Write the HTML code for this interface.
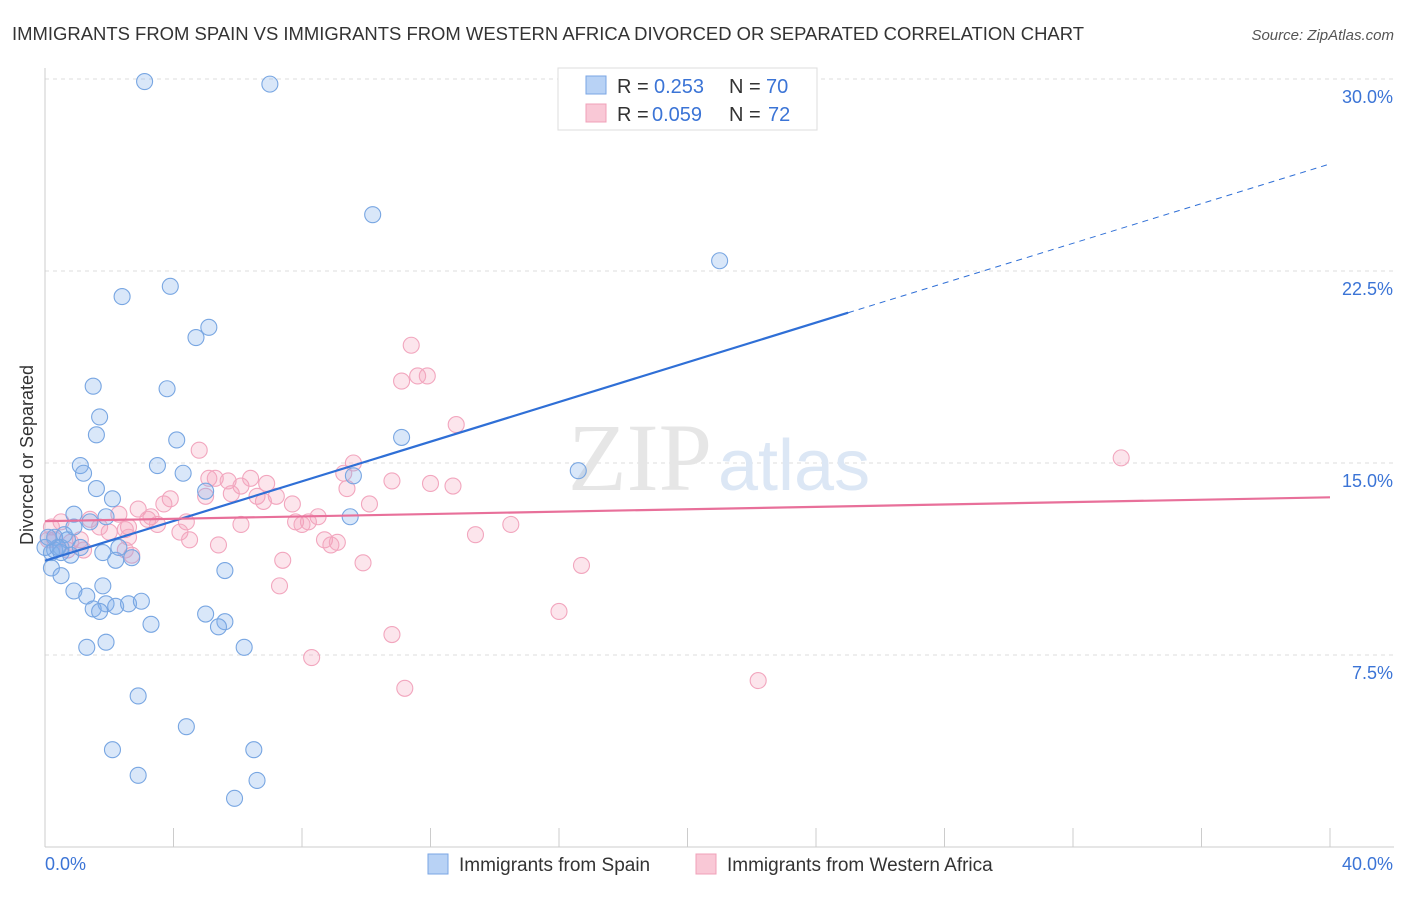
<!DOCTYPE html>
<html><head><meta charset="utf-8"><style>
body{margin:0;background:#fff;font-family:"Liberation Sans",sans-serif;}
</style></head><body>
<svg width="1406" height="892" xmlns="http://www.w3.org/2000/svg">
<text x="12" y="40" font-size="18.5" fill="#333" textLength="1072" lengthAdjust="spacingAndGlyphs">IMMIGRANTS FROM SPAIN VS IMMIGRANTS FROM WESTERN AFRICA DIVORCED OR SEPARATED CORRELATION CHART</text>
<text x="1394" y="40" font-size="15" fill="#555" font-style="italic" text-anchor="end">Source: ZipAtlas.com</text>
<g id="grid"></g>
<text x="712" y="490" font-size="96" fill="#e6e6e6" text-anchor="end" font-family="Liberation Serif,serif">ZIP</text>
<text x="718" y="490" font-size="72" fill="#dce7f5">atlas</text>
<text x="33" y="455" font-size="18" fill="#333" text-anchor="middle" transform="rotate(-90 33 455)">Divorced or Separated</text>
<g id="pts"></g>
<g id="lines"></g>
<g>
<rect x="558" y="68" width="259" height="62" fill="#fff" stroke="#ddd"/>
<rect x="586" y="76" width="20" height="18" fill="#b8d2f5" stroke="#7aa6e4"/>
<rect x="586" y="104" width="20" height="18" fill="#f9c8d6" stroke="#f0a0b8"/>
<text x="617" y="93" font-size="20" fill="#333">R =</text><text x="654" y="93" font-size="20" fill="#3b74d6">0.253</text>
<text x="729" y="93" font-size="20" fill="#333">N =</text><text x="766" y="93" font-size="20" fill="#3b74d6">70</text>
<text x="617" y="121" font-size="20" fill="#333">R =</text><text x="652" y="121" font-size="20" fill="#3b74d6">0.059</text>
<text x="729" y="121" font-size="20" fill="#333">N =</text><text x="768" y="121" font-size="20" fill="#3b74d6">72</text>
</g>
<g>
<rect x="428" y="854" width="20" height="20" fill="#b8d2f5" stroke="#7aa6e4"/>
<text x="459" y="871" font-size="19" fill="#333">Immigrants from Spain</text>
<rect x="696" y="854" width="20" height="20" fill="#f9c8d6" stroke="#f0a0b8"/>
<text x="727" y="871" font-size="19" fill="#333">Immigrants from Western Africa</text>
</g>
</svg>
<script>
const xTicks=[0,4,8,12,16,20,24,28,32,36,40];
const yTicks=[7.5,15,22.5,30];
const spainX=[3.1,7.0,10.2,21.0,2.4,3.9,5.1,4.7,1.5,3.8,1.7,1.6,4.1,11.1,1.1,3.5,1.2,4.3,16.6,1.6,2.1,5.0,0.9,1.9,1.4,9.5,0.6,0.3,0.5,0.2,0.8,1.1,1.8,2.2,2.7,0.2,0.5,5.6,0.9,1.8,1.3,1.9,2.2,2.6,3.0,1.5,1.7,5.0,5.6,5.4,3.3,1.3,1.9,6.2,2.9,4.4,2.1,6.5,2.9,6.6,5.9,0.3,0.0,0.7,0.5,0.4,9.6,0.1,0.9,2.3];
const spainY=[29.9,29.8,24.7,22.9,21.5,21.9,20.3,19.9,18.0,17.9,16.8,16.1,15.9,16.0,14.9,14.9,14.6,14.6,14.7,14.0,13.6,13.9,13.0,12.9,12.7,12.9,12.2,12.1,11.7,11.5,11.4,11.7,11.5,11.2,11.3,10.9,10.6,10.8,10.0,10.2,9.8,9.5,9.4,9.5,9.6,9.3,9.2,9.1,8.8,8.6,8.7,7.8,8.0,7.8,5.9,4.7,3.8,3.8,2.8,2.6,1.9,11.6,11.7,12.0,11.5,11.7,14.5,12.1,12.5,11.7];
const africaX=[11.4,11.1,11.9,11.6,12.8,9.6,9.3,10.8,9.4,12.0,12.7,4.8,5.1,5.3,5.7,6.1,6.4,6.9,7.2,5.0,5.8,6.6,6.8,7.7,8.5,7.8,8.2,8.0,10.1,3.9,3.7,2.9,3.3,3.2,4.4,3.5,6.1,2.6,1.4,1.1,2.0,2.5,2.6,4.2,4.5,5.4,8.7,8.9,9.1,2.5,2.7,1.2,0.7,0.2,0.5,7.4,9.9,16.7,13.4,14.5,7.3,16.0,10.8,8.3,11.2,22.2,33.5,0.1,0.3,0.8,1.7,2.3];
const africaY=[19.6,18.2,18.4,18.4,16.5,15.0,14.6,14.3,14.0,14.2,14.1,15.5,14.4,14.4,14.3,14.1,14.4,14.2,13.7,13.7,13.8,13.7,13.5,13.4,12.9,12.7,12.7,12.6,13.4,13.6,13.4,13.2,12.9,12.8,12.7,12.6,12.6,12.5,12.8,12.0,12.3,12.4,12.1,12.3,12.0,11.8,12.0,11.8,11.9,11.6,11.4,11.6,11.6,12.5,12.7,11.2,11.1,11.0,12.2,12.6,10.2,9.2,8.3,7.4,6.2,6.5,15.2,12.0,12.0,11.9,12.5,13.0];
const NS='http://www.w3.org/2000/svg';
const X=v=>45+v/40*1285, Y=v=>847-v/7.5*192;
function mk(t,a,p){const e=document.createElementNS(NS,t);for(const k in a)e.setAttribute(k,a[k]);p.appendChild(e);return e;}
const g=document.getElementById('grid');
yTicks.forEach(t=>{const l=mk('line',{x1:45,x2:1394,y1:Y(t),y2:Y(t),stroke:'#ddd','stroke-dasharray':'4,4'},g);


const tx=mk('text',{x:1393,y:Y(t)+24,'font-size':18,fill:'#3b74d6','text-anchor':'end'},g);tx.textContent=t.toFixed(1)+'%';

});
const ax=mk('line',{x1:45,x2:1394,y1:847,y2:847,stroke:'#ccc'},g);


const ay=mk('line',{x1:45,x2:45,y1:68,y2:847,stroke:'#ccc'},g);


xTicks.forEach(t=>{const l=mk('line',{x1:X(t),x2:X(t),y1:828,y2:847,stroke:'#ccc'},g);

});
[[0,'start',45],[40,'end',1393]].forEach(([t,a,x])=>{const tx=mk('text',{x:x,y:870,'font-size':18,fill:'#3b74d6','text-anchor':a},g);tx.textContent=t.toFixed(1)+'%';

});
const p=document.getElementById('pts');
africaX.forEach((v,i)=>{const c=mk('circle',{cx:X(v),cy:Y(africaY[i]),r:8,fill:'rgba(244,160,188,0.28)',stroke:'#f2a6be','stroke-width':1.1},p);

});
spainX.forEach((v,i)=>{const c=mk('circle',{cx:X(v),cy:Y(spainY[i]),r:8,fill:'rgba(130,175,235,0.3)',stroke:'#78a6e2','stroke-width':1.1},p);

});
function fit(xs,ys){const n=xs.length,mx=xs.reduce((a,b)=>a+b)/n,my=ys.reduce((a,b)=>a+b)/n;let sxy=0,sxx=0;xs.forEach((x,i)=>{sxy+=(x-mx)*(ys[i]-my);sxx+=(x-mx)**2});const b=sxy/sxx;return [my-b*mx,b];}
const L=document.getElementById('lines');
const [a1,b1]=fit(spainX,spainY);
let l=mk('line',{x1:X(0),y1:Y(a1),x2:X(25),y2:Y(a1+b1*25),stroke:'#2f6fd6','stroke-width':2.2},L);


l=mk('line',{x1:X(25),y1:Y(a1+b1*25),x2:X(40),y2:Y(a1+b1*40),stroke:'#2f6fd6','stroke-width':1,'stroke-dasharray':'6,5'},L);


const [a2,b2]=fit(africaX,africaY);
l=mk('line',{x1:X(0),y1:Y(a2),x2:X(40),y2:Y(a2+b2*40),stroke:'#e8709a','stroke-width':2.2},L);


</script>
</body></html>
